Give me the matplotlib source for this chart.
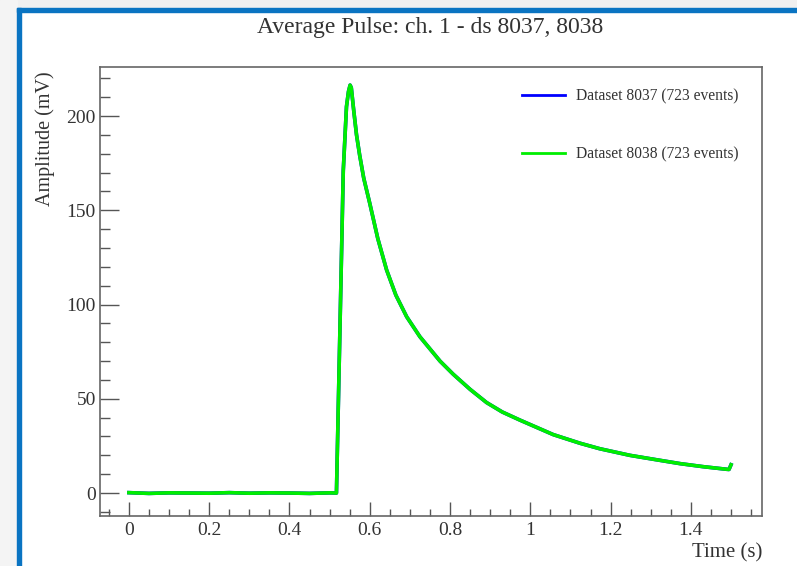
import numpy as np
import matplotlib
matplotlib.use("Agg")
import matplotlib.pyplot as plt
from matplotlib.patches import Rectangle
from matplotlib.ticker import MultipleLocator

# Valores (tempo em s, amplitude em mV)
tempo = [0.0, 0.05, 0.1, 0.15, 0.2, 0.25, 0.3, 0.35, 0.4, 0.45, 0.5, 0.517,
         0.525, 0.534, 0.542, 0.547, 0.551, 0.554, 0.56, 0.567, 0.575, 0.585,
         0.6, 0.62, 0.642, 0.665, 0.692, 0.725, 0.775, 0.808, 0.85, 0.891,
         0.93, 0.974, 1.057, 1.124, 1.173, 1.248, 1.31, 1.373, 1.43, 1.489,
         1.495, 1.5]
amp_8037 = [0.2, -0.2, 0.1, 0.0, -0.1, 0.2, -0.1, 0.1, 0.0, -0.2, 0.1, 0.0,
            80, 171, 205, 213, 216.4, 215, 203, 190, 179, 167,
            153.7, 135, 118.3, 105, 93.5, 82.9, 70, 63, 55, 48,
            43, 38.7, 31, 26.4, 23.5, 20, 17.8, 15.6, 14, 12.6,
            12.5, 15]
amp_8038 = list(amp_8037)

legenda = ["Dataset 8037 (723 events)", "Dataset 8038 (723 events)"]
titulo = "Average Pulse: ch. 1 - ds 8037, 8038"

plt.rcParams['font.family'] = ['Liberation Serif', 'DejaVu Serif']

fig = plt.figure(figsize=(7.97, 5.66), dpi=100)

# moldura azul da janela
fig.patches.append(Rectangle((0, 0.984), 1, 0.016, transform=fig.transFigure,
                             color="#f0f0f0", zorder=0))
fig.patches.append(Rectangle((0.0, 0), 0.021, 1, transform=fig.transFigure,
                             color="#f4f4f4", zorder=0))
fig.patches.append(Rectangle((0.021, 0.978), 0.979, 0.007, transform=fig.transFigure,
                             color="#0a74c2", zorder=1))
fig.patches.append(Rectangle((0.021, 0), 0.005, 0.985, transform=fig.transFigure,
                             color="#0a74c2", zorder=1))

ax = fig.add_axes([0.1255, 0.0883, 0.8305, 0.7933])
ax.plot(tempo, amp_8037, color="#0000ff", lw=2.6, label=legenda[0])
ax.plot(tempo, amp_8038, color="#00ee00", lw=2.6, label=legenda[1])

ax.set_xlim(-0.072, 1.577)
ax.set_ylim(-12.2, 226)
ax.xaxis.set_major_locator(MultipleLocator(0.2))
ax.xaxis.set_minor_locator(MultipleLocator(0.05))
ax.yaxis.set_major_locator(MultipleLocator(50))
ax.yaxis.set_minor_locator(MultipleLocator(10))
ax.set_xticks([0, 0.2, 0.4, 0.6, 0.8, 1.0, 1.2, 1.4])
ax.set_xticklabels(["0", "0.2", "0.4", "0.6", "0.8", "1", "1.2", "1.4"])

ax.tick_params(which="both", direction="in", top=False, right=False,
               colors="#555555", labelcolor="#333333", labelsize=14)
ax.tick_params(axis="y", which="major", length=14, width=1, pad=3)
ax.tick_params(axis="y", which="minor", length=7, width=1)
ax.tick_params(axis="x", which="major", length=10, width=1, pad=4)
ax.tick_params(axis="x", which="minor", length=5, width=1)
for s in ax.spines.values():
    s.set_color("#666666")
    s.set_linewidth(1.2)

# rótulos dos eixos no estilo ROOT (no canto)
ax.set_ylabel("Amplitude (mV)", fontsize=14.5, color="#333333")
ax.yaxis.label.set_horizontalalignment("right")
ax.yaxis.set_label_coords(-0.068, 0.99)
ax.set_xlabel("Time (s)", fontsize=15, color="#333333", loc="right", labelpad=3)

fig.text(0.54, 0.952, titulo, ha="center", va="center", fontsize=17, color="#333333")

leg = ax.legend(loc="upper right", bbox_to_anchor=(0.964, 0.952), frameon=False,
                fontsize=11.2, handlelength=2.8, labelspacing=2.7, handletextpad=0.65,
                borderpad=0, borderaxespad=0, labelcolor="#333333")
for h in leg.get_lines():
    h.set_linewidth(2)

fig.savefig("out.png", dpi=100, facecolor="white")
